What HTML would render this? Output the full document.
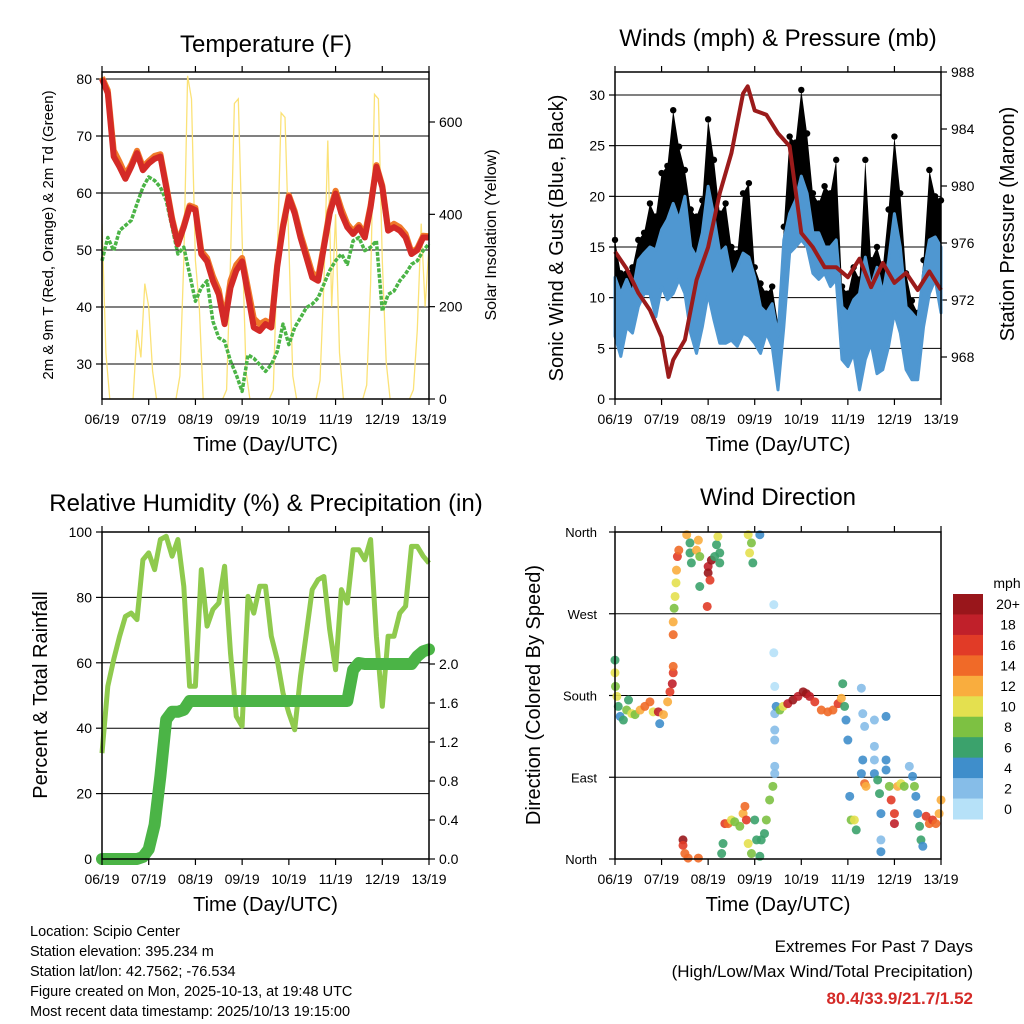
<!DOCTYPE html>
<html><head><meta charset="utf-8"><style>
html,body{margin:0;padding:0;background:#fff;}
svg{display:block;font-family:"Liberation Sans",sans-serif;}
</style></head><body>
<svg id="root" width="1024" height="1024" viewBox="0 0 1024 1024"></svg>
<script>
// ---------- DATA ----------
// temperature panel: 57 samples, every 0.125 day
const tempRed=[80,77.5,66.4,64.6,62.5,64.6,67,64,65.2,66,66.4,61,55.2,51,54,57.5,57,49.3,48,44.6,42.2,37,43.4,46.4,48,42.2,36.4,35.8,37,36.4,47,54,59.3,56.4,52.2,48.7,45.2,44.6,50.5,56.4,59.9,56.4,54,52.8,54,52.2,57.5,64.6,61,53.4,54,53.4,52.2,49.3,50,52.2,52.2];
const tempOrange=[80.3,78,67.5,65.5,63.2,65,67.4,64.6,65.6,66.5,66.8,61.4,55.6,51.3,54.3,57.8,57.4,49.8,48.6,45.4,43,37.6,44.6,47.4,48.6,43.3,38,37,37.6,37,47.4,54.4,59.6,56.8,52.8,49.4,46,45.2,50.9,56.9,60.4,57.2,54.6,53.3,54.4,52.8,57.8,64.9,61.3,53.8,54.6,54,52.8,49.6,50.3,52.5,52.4];
const dewGreen=[48.1,52.2,49.9,53.4,54.3,55.2,58.1,61,62.8,62.2,61,58.7,54,49.3,50.5,45.8,41,43.4,44.6,37.5,34.6,34,30.5,28.1,25.2,31.6,31,29.9,28.7,29.9,32.2,37,33.4,36.4,38.1,39.9,40.5,41.6,44,46.4,48.1,49.3,47.5,51.6,52.2,49.9,50.5,51.6,39.3,42.2,42.8,44.6,45.8,47.5,48.1,49.9,51.1];
// solar insolation: 85 samples every 2 hours
const solar=[380,100,0,0,0,0,0,0, 0,150,90,250,200,60,0,0, 0,0,0,0,50,300,700,650, 300,200,0,0,0,0,0,0, 20,300,640,650,350,60,0,0, 0,0,0,0,20,300,620,610, 330,50,0,0,0,0,0,0, 40,250,560,200,400,100,0,0, 0,0,0,0,30,250,660,650, 300,80,0,0,0,0,0,0, 20,150,380,200,330];
// winds: 57 samples every 0.125 day
const gustHi=[15.7,12.4,12.4,13,15.7,16.4,19.3,18,22.3,23,28.5,24.9,22.6,18.7,18,19.6,27.6,23.6,18.3,19.3,15,14.4,20.3,21.3,13,11.4,10.4,11.1,7.5,17,25.9,25.3,30.5,26.2,20.3,19.3,21,20.3,23.6,11.1,10.4,13,11.8,23.6,13.7,15,13,18.7,25.9,20.3,12.4,9.7,8.5,13.7,22.6,20,19.6];
const windHi=[12,10.4,11.8,10.4,13.7,14.4,15,14.7,16.7,17.7,19.3,17.7,20,15,14,16.4,21,18,14.4,15,12,13,14.4,14,12,9.1,8.5,9.4,6.2,15.7,18.3,19.6,22,20.3,16.4,16.4,15,15,15.7,9.1,8.5,9.8,10.4,14,11.1,13,10.4,13.7,18.3,15,9.1,8.5,7.8,12.4,15.7,16,15];
const windLo=[6.2,4.2,7.1,6.5,9.1,10.4,10.4,8.1,11.1,9.8,10.4,11.8,10.4,6.5,4.5,7.1,10.4,7.8,5.5,5.5,5.8,5.2,6.5,6.2,5.5,4.5,6.5,5.2,0.9,7.1,14.4,15,15.7,15,12.4,11.8,12.4,11.1,11.8,3.9,3.2,4.5,0.9,3.9,5.5,2.5,2.9,5.2,8.5,6.5,2.9,1.9,1.9,7.1,10.4,11.8,8.5];
const pressDay=[0,0.25,0.5,0.75,1,1.15,1.25,1.5,1.75,2,2.25,2.5,2.75,2.85,3,3.25,3.5,3.75,4,4.25,4.5,4.75,5,5.25,5.5,5.75,6,6.25,6.5,6.75,7];
const pressure=[975.4,974.2,972.5,971.3,969.4,966.6,967.8,969.2,973.4,975.7,979.5,982.3,986.5,987,985.3,985,983.7,982.8,976.7,975.7,974.3,974.3,973.6,974.9,972.9,974.6,973.2,973.9,972.7,974,972.7];
// RH and precip: 57 samples every 0.125 day
const rh=[32.4,52.8,61,68,74.2,75.2,73.2,91.5,93.6,88.5,97.7,98.7,92.6,97.7,83.4,52.8,52.8,88.5,71.2,76.3,78.3,89.5,63,43.6,40.6,80.3,75.2,83.4,83.4,68.1,61,50.8,44.6,39.5,55.9,69.1,82.4,85.4,86.4,70.1,57.9,82.4,78.3,94.6,94.6,91.5,97.7,68.1,46.7,68.1,68.1,75.2,77.3,95.6,95.6,92.6,90.5];
const precip=[0,0,0,0,0,0,0,0.02,0.1,0.35,0.85,1.43,1.51,1.51,1.53,1.62,1.62,1.62,1.62,1.62,1.62,1.62,1.62,1.62,1.62,1.62,1.62,1.62,1.62,1.62,1.62,1.62,1.62,1.62,1.62,1.62,1.62,1.62,1.62,1.62,1.62,1.62,1.62,1.94,2.01,2.0,2.0,2.0,2.0,2.0,2.0,2.0,2.0,2.0,2.08,2.13,2.15];
// wind direction scatter
const dirDay=[0,0,0.01,0.04,0.07,0.11,0.18,0.25,0.29,0.36,0.43,0.54,0.64,0.75,0.82,0.93,0.96,1.04,1.13,1.18,1.23,1.25,1.25,1.25,1.25,1.27,1.29,1.31,1.32,1.34,1.37,1.54,1.61,1.61,1.64,1.75,1.79,1.82,1.82,2,2,2.04,2.07,1.98,2.14,2.18,2.21,2.25,2.25,2.86,2.89,2.93,2.96,3.11,1.46,1.46,1.5,1.57,1.79,2.29,2.32,2.36,2.43,2.5,2.57,2.68,2.75,2.79,2.82,2.86,2.93,3,3.04,3.11,3.14,3.21,3.25,3.32,3.39,3.43,3.43,3.43,3.43,3.43,3.46,3.54,3.61,3.71,3.82,3.93,4.04,4.11,4.18,4.29,4.43,4.57,4.68,4.79,4.86,4.89,4.93,4.96,5,3.43,3.41,3.41,5.29,5.32,5.36,5.32,5.29,5.36,5.39,5.04,5.07,5.14,5.18,5.57,5.57,5.57,5.57,5.64,5.68,5.71,5.71,5.71,5.82,5.82,5.82,5.89,5.93,6,6,6.07,6.14,6.21,6.32,6.39,6.43,6.46,6.5,6.54,6.57,6.61,6.68,6.75,6.82,6.89,6.96,7];
const dirDeg=[219,205,190,179,168,157,153,164,175,160,159,164,168,173,162,162,149,159,173,184,193,205,212,247,261,276,289,304,318,333,340,357,348,337,326,340,351,333,300,322,315,307,329,278,333,346,355,337,326,357,337,348,326,357,21,15,6,1,1,6,17,39,39,43,41,36,50,58,43,17,6,43,21,3,21,28,43,65,80,94,102,131,142,160,168,164,168,171,175,179,184,182,179,173,164,162,164,171,177,193,168,153,131,190,227,280,188,160,146,109,94,83,80,69,43,43,32,153,124,109,94,87,72,50,21,8,157,109,98,80,65,50,39,80,83,80,102,91,80,69,50,36,21,14,47,39,43,39,50,65];
const dirSpeed=[6,10,8,10,6,4,6,8,6,10,8,12,14,14,10,18,4,12,12,16,18,16,14,14,12,8,10,10,12,16,14,12,6,6,6,12,12,8,6,18,20,16,20,16,6,6,10,6,6,10,10,8,6,4,20,16,14,14,14,6,6,16,14,10,8,8,12,14,16,10,8,6,6,6,6,6,8,8,8,2,2,2,2,2,4,8,10,18,20,18,20,20,18,16,14,14,14,16,12,6,6,4,4,0,0,0,2,2,2,4,4,14,12,4,8,10,6,2,2,2,4,6,6,4,2,4,4,4,4,8,16,16,18,12,10,8,2,4,8,4,4,6,6,4,16,14,16,14,12,12];
const speedLevels=["0","2","4","6","8","10","12","14","16","18","20+"];
const speedColors=["#b6e1f8","#86bde8","#3f8ecb","#3ba26c","#7dc142","#e4e04f","#f9ad3e","#f06a28","#e13b27","#c0202a","#99161b"];
const dayLabels=["06/19","07/19","08/19","09/19","10/19","11/19","12/19","13/19"];
const tempTicks=[30,40,50,60,70,80];
const solarTicks=[0,200,400,600];
const windTicks=[0,5,10,15,20,25,30];
const pressTicks=[968,972,976,980,984,988];
const rhTicks=[0,20,40,60,80,100];
const precipTicks=[0,0.4,0.8,1.2,1.6,2.0];
const dirTicks=[0,90,180,270,360];
const dirNames=["North","East","South","West","North"];

// ---------- HELPERS ----------
const NS="http://www.w3.org/2000/svg";
const root=document.getElementById('root');
function mk(tag,attrs,parent){const e=document.createElementNS(NS,tag);for(const k in attrs)e.setAttribute(k,attrs[k]);(parent||root).appendChild(e);return e;}
function txt(s,x,y,size,anchor,parent,extra){const t=mk('text',Object.assign({x:x,y:y,'font-size':size,'text-anchor':anchor||'middle',fill:'#000'},extra||{}),parent);t.textContent=s;return t;}
function lin(d0,d1,r0,r1){return v=>r0+(v-d0)*(r1-r0)/(d1-d0);}
function pathFrom(xs,ys){let s='';for(let i=0;i<xs.length;i++){s+=(i?'L':'M')+xs[i].toFixed(1)+' '+ys[i].toFixed(1);}return s;}
const idx57=tempRed.map((_,i)=>i*0.125);

// panel geometry
const L={x0:102,x1:429}, R={x0:615,x1:941};
const xL=lin(0,7,L.x0,L.x1), xR=lin(0,7,R.x0,R.x1);

function frame(g,x0,x1,y0,y1,name){
  const r=mk('rect',{x:x0,y:y0,width:x1-x0,height:y1-y0,fill:'none',stroke:'#000','stroke-width':1.5},g);
  
  
}
function xAxis(g,xs,y0,y1,name){
  const ag=mk('g',{},g);
  
  
  dayLabels.forEach((lab,i)=>{
    const x=xs(i);
    mk('line',{x1:x,x2:x,y1:y1,y2:y1+6,stroke:'#000','stroke-width':1.2},ag);
    mk('line',{x1:x,x2:x,y1:y0,y2:y0-6,stroke:'#000','stroke-width':1.2},ag);
    const t=txt(lab,x,y1+25,14,'middle',ag);
    
    
  });
  const tt=txt('Time (Day/UTC)',(xs(0)+xs(7))/2,y1+52,20,'middle',ag);
  
  
}
function yTicks(g,ticks,ys,x,side,fmt,name,grid,x0,x1){
  const ag=mk('g',{},g);
  
  
  ticks.forEach(v=>{
    const y=ys(v);
    if(grid){mk('line',{x1:x0,x2:x1,y1:y,y2:y,stroke:'#000','stroke-width':1},ag);}
    const dx=side==='left'?-6:6;
    mk('line',{x1:x,x2:x+dx,y1:y,y2:y,stroke:'#000','stroke-width':1.2},ag);
    const t=txt(fmt(v),x+(side==='left'?-10:10),y+5,14,side==='left'?'end':'start',ag);
    
    
  });
}
function vtitle(g,s,x,y,size,name){
  const t=txt(s,x,y,size,'middle',g,{transform:'rotate(-90 '+x+' '+y+')'});
  
  
}
function title(g,s,x,y,name){
  const t=txt(s,x,y,24,'middle',g);
  
  
}

// ---------- PANEL 1: TEMPERATURE ----------
(function(){
  const g=mk('g',{});
  
  
  const y0=72,y1=399;
  const yT=lin(30,80,364,79);
  const yS=lin(0,600,399,122);
  title(g,'Temperature (F)',266,52,'temperature-title');
  yTicks(g,tempTicks,yT,L.x0,'left',v=>v,'temperature-y-axis',true,L.x0,L.x1);
  yTicks(g,solarTicks,yS,L.x1,'right',v=>v,'solar-y-axis',false);
  // solar
  const cp=mk('clipPath',{id:'c1'},g);mk('rect',{x:L.x0,y:y0,width:L.x1-L.x0,height:y1-y0},cp);
  const sx=solar.map((_,i)=>xL(i/12)), sy=solar.map(v=>yS(v));
  const sp=mk('path',{d:pathFrom(sx,sy),fill:'none',stroke:'#fbe277','stroke-width':1.3,'clip-path':'url(#c1)'},g);
  
  
  const gp=mk('path',{d:pathFrom(idx57.map(xL),dewGreen.map(yT)),fill:'none',stroke:'#4bb446','stroke-width':3.5,'stroke-dasharray':'4 1.5','stroke-linejoin':'round'},g);
  
  
  const op=mk('path',{d:pathFrom(idx57.map(xL),tempOrange.map(yT)),fill:'none',stroke:'#f07a2a','stroke-width':6,'stroke-linejoin':'round'},g);
  
  
  const rp=mk('path',{d:pathFrom(idx57.map(xL),tempRed.map(yT)),fill:'none',stroke:'#d42a27','stroke-width':6,'stroke-linejoin':'round'},g);
  
  
  frame(g,L.x0,L.x1,y0,y1,'temperature');
  xAxis(g,xL,y0,y1,'temperature');
  vtitle(g,'2m & 9m T (Red, Orange) & 2m Td (Green)',53,235,15,'temperature-y-axis-title');
  vtitle(g,'Solar Insolation (Yellow)',496,235,16,'solar-y-axis-title');
})();

// ---------- PANEL 2: WINDS ----------
(function(){
  const g=mk('g',{});
  
  
  const y0=72,y1=399;
  const yW=lin(0,30,399,95);
  const yP=lin(968,988,357,72);
  title(g,'Winds (mph) & Pressure (mb)',778,46,'winds-title');
  yTicks(g,windTicks,yW,R.x0,'left',v=>v,'wind-y-axis',true,R.x0,R.x1);
  yTicks(g,pressTicks,yP,R.x1,'right',v=>v,'pressure-y-axis',false);
  const xs=idx57.map(xR);
  // gust area
  const ga=pathFrom(xs.concat(xs.slice().reverse()),gustHi.map(yW).concat(windHi.map(yW).reverse()))+'Z';
  const gpath=mk('path',{d:ga,fill:'#000'},g);
  
  
  gustHi.forEach((v,i)=>{
    const c=mk('circle',{cx:xs[i],cy:yW(v),r:3.2,fill:'#000'},g);
    
    
  });
  const wa=pathFrom(xs.concat(xs.slice().reverse()),windHi.map(yW).concat(windLo.map(yW).reverse()))+'Z';
  const wpath=mk('path',{d:wa,fill:'#4f97d1',stroke:'#4f97d1','stroke-width':3,'stroke-linejoin':'round'},g);
  
  
  const pp=mk('path',{d:pathFrom(pressDay.map(xR),pressure.map(yP)),fill:'none',stroke:'#9b1b1b','stroke-width':4,'stroke-linejoin':'round'},g);
  
  
  frame(g,R.x0,R.x1,y0,y1,'winds');
  xAxis(g,xR,y0,y1,'winds');
  vtitle(g,'Sonic Wind & Gust (Blue, Black)',563,238,20,'wind-y-axis-title');
  vtitle(g,'Station Pressure (Maroon)',1014,224,20,'pressure-y-axis-title');
})();

// ---------- PANEL 3: RH / PRECIP ----------
(function(){
  const g=mk('g',{});
  
  
  const y0=532,y1=859;
  const yH=lin(0,100,859,532);
  const yR=lin(0,2,859,664);
  title(g,'Relative Humidity (%) & Precipitation (in)',266,511,'humidity-title');
  yTicks(g,rhTicks,yH,L.x0,'left',v=>v,'humidity-y-axis',true,L.x0,L.x1);
  yTicks(g,precipTicks,yR,L.x1,'right',v=>v.toFixed(1),'precip-y-axis',false);
  const xs=idx57.map(xL);
  const hp=mk('path',{d:pathFrom(xs,rh.map(yH)),fill:'none',stroke:'#8fca4e','stroke-width':5,'stroke-linejoin':'round'},g);
  
  
  const pp=mk('path',{d:pathFrom(xs,precip.map(yR)),fill:'none',stroke:'#4bb446','stroke-width':12,'stroke-linejoin':'round','stroke-linecap':'round'},g);
  
  
  frame(g,L.x0,L.x1,y0,y1,'humidity');
  xAxis(g,xL,y0,y1,'humidity');
  vtitle(g,'Percent & Total Rainfall',47,695,20,'humidity-y-axis-title');
})();

// ---------- PANEL 4: WIND DIRECTION ----------
(function(){
  const g=mk('g',{});
  
  
  const y0=532,y1=859;
  const yD=lin(0,360,859,532);
  title(g,'Wind Direction',778,505,'wind-direction-title');
  const ag=mk('g',{},g);
  
  
  dirTicks.forEach((v,i)=>{
    const y=yD(v);
    mk('line',{x1:R.x0,x2:R.x1,y1:y,y2:y,stroke:'#000','stroke-width':1},ag);
    mk('line',{x1:R.x0,x2:R.x0-6,y1:y,y2:y,stroke:'#000','stroke-width':1.2},ag);
    const t=txt(dirNames[i],R.x0-18,y+5,13,'end',ag);
    
    
  });
  dirDay.forEach((d,i)=>{
    const lvl=Math.min(10,Math.round(dirSpeed[i]/2));
    const c=mk('circle',{cx:xR(d),cy:yD(dirDeg[i]),r:4.5,fill:speedColors[lvl],'fill-opacity':0.9},g);
    
    
  });
  frame(g,R.x0,R.x1,y0,y1,'wind-direction');
  xAxis(g,xR,y0,y1,'wind-direction');
  vtitle(g,'Direction (Colored By Speed)',540,695,20,'direction-y-axis-title');
  // colorbar
  const cb=mk('g',{},g);
  
  
  const mt=txt('mph',1007,588,14,'middle',cb);
  
  
  const h=225/11;
  for(let k=0;k<11;k++){
    const lv=10-k;
    const r=mk('rect',{x:953,y:594+k*h,width:30,height:h+0.5,fill:speedColors[lv]},cb);
    
    
    const t=txt(speedLevels[lv],1008,594+k*h+h/2+5,14,'middle',cb);
    
    
  }
})();

// ---------- FOOTER ----------
(function(){
  const g=mk('g',{});
  
  
  const lines=['Location: Scipio Center','Station elevation: 395.234 m','Station lat/lon: 42.7562; -76.534','Figure created on Mon, 2025-10-13, at 19:48 UTC','Most recent data timestamp: 2025/10/13 19:15:00'];
  lines.forEach((s,i)=>{
    const t=txt(s,30,936+i*20,14.5,'start',g);
    
    
  });
  const e=mk('g',{});
  
  
  const a=txt('Extremes For Past 7 Days',973,952,17,'end',e);
  
  
  const b=txt('(High/Low/Max Wind/Total Precipitation)',973,977,17,'end',e);
  
  
  const c=txt('80.4/33.9/21.7/1.52',973,1004,17,'end',e,{fill:'#d42a27','font-weight':'bold'});
  
  
})();
</script>
</body></html>
